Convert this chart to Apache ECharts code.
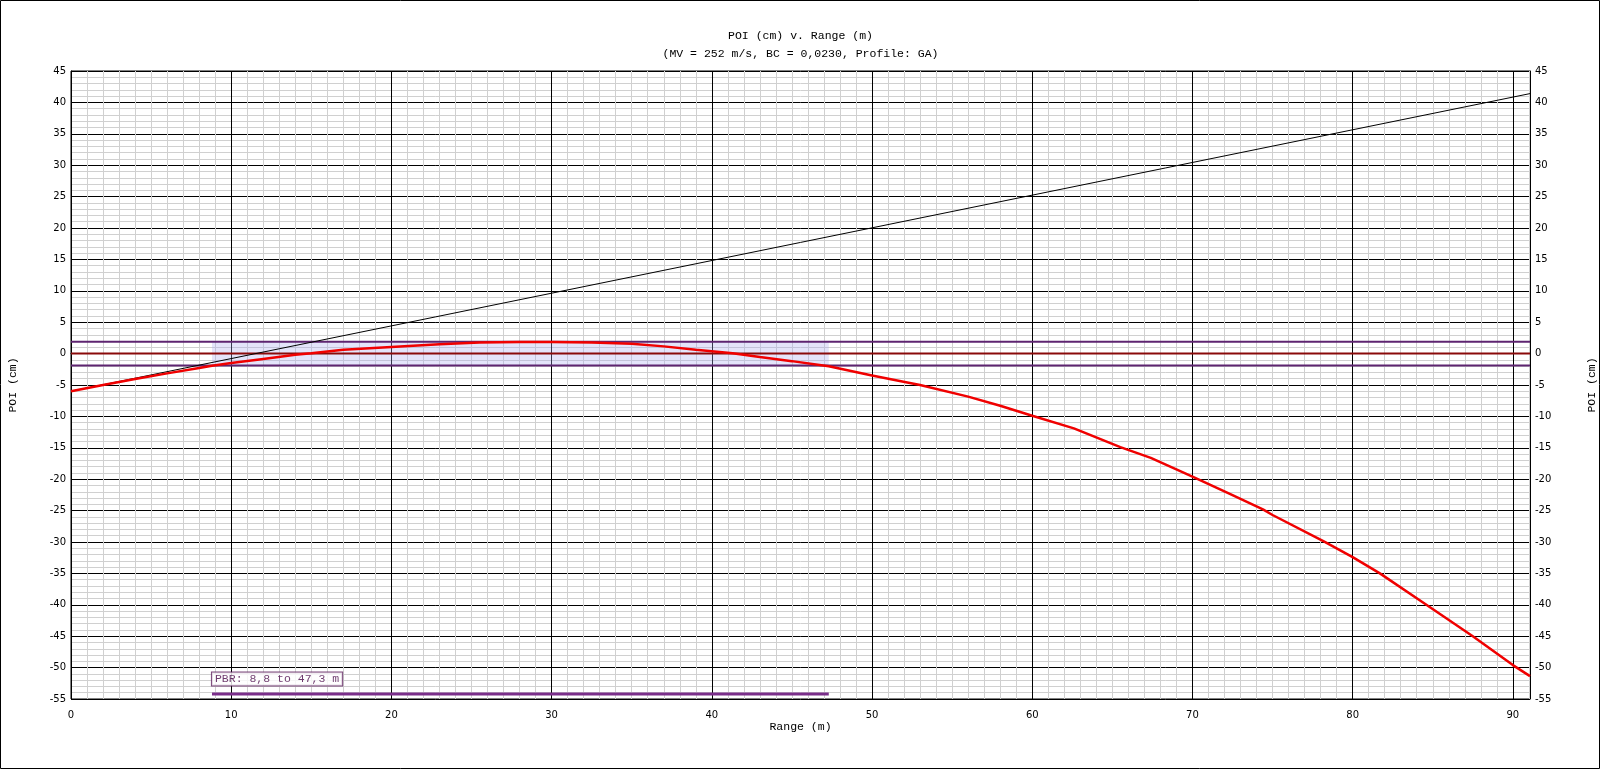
<!DOCTYPE html>
<html>
<head>
<meta charset="utf-8">
<script src="https://cdn.jsdelivr.net/npm/echarts@6/dist/echarts.min.js"></script>
<style>
html,body{margin:0;padding:0;background:#fff;}
#chart{width:1601px;height:770px;}
</style>
</head>
<body>
<div id="chart"></div>
<script>
// ---- data ----
const titleText = 'POI (cm) v. Range (m)';
const subtitleText = '(MV = 252 m/s, BC = 0,0230, Profile: GA)';
const xName = 'Range (m)';
const yName = 'POI (cm)';
const xMin = 0, xMax = 91.07;
const yMin = -55, yMax = 45;

// trajectory (range m, POI cm)
const trajRange = [0, 2, 4, 6, 8, 8.8, 10, 12, 14, 15, 17, 20, 23, 25.5, 28, 30, 32.5, 35, 37, 39, 41.3, 43, 45, 47.3, 50, 52.2, 53, 56, 58, 60, 62.6, 65.5, 67.4, 70, 72.3, 74.4, 75, 78.2, 80, 81.7, 84.6, 87.5, 90, 91.07];
const trajPOI   = [-6.0, -5.0, -4.05, -3.15, -2.3, -1.95, -1.5, -0.85, -0.2, 0.05, 0.6, 1.05, 1.5, 1.75, 1.85, 1.85, 1.75, 1.55, 1.15, 0.6, 0.05, -0.55, -1.2, -2.0, -3.5, -4.6, -5.0, -6.85, -8.3, -9.9, -11.9, -14.9, -16.6, -19.6, -22.3, -24.8, -25.7, -29.9, -32.4, -35, -40, -45, -49.6, -51.35];

// line of bore
const boreRange = [0, 91.07];
const borePOI = [-6.0, 41.4];

// point-blank range band
const pbrStart = 8.8, pbrEnd = 47.3;
const bandHalf = 1.9;
const pbrBarY = -54.2;
const pbrLabel = 'PBR: 8,8 to 47,3 m';

const zip = (a, b) => a.map((v, i) => [v, b[i]]);

const monoFont = 'Liberation Mono';
const tickFont = 'DejaVu Sans';

const chart = echarts.init(document.getElementById('chart'), null, {renderer: 'canvas'});
const gridPos = {left: 71, right: 71, top: 71, bottom: 71};

const option = {
  animation: false,
  backgroundColor: '#fff',
  title: [
    {text: titleText, left: 'center', top: 30, padding: 0,
     textStyle: {fontFamily: monoFont, fontSize: 11.5, fontWeight: 'normal', color: '#000'}},
    {text: subtitleText, left: 'center', top: 47.5, padding: 0,
     textStyle: {fontFamily: monoFont, fontSize: 11.5, fontWeight: 'normal', color: '#000'}}
  ],
  graphic: [{
    type: 'rect', silent: true, z: 100,
    shape: {x: 0.5, y: 0.5, width: 1599, height: 768},
    style: {fill: 'none', stroke: '#000', lineWidth: 1}
  }],
  grid: Object.assign({show: true, borderColor: '#000', borderWidth: 1, backgroundColor: 'transparent',
                       containLabel: false, outerBoundsMode: 'none'}, gridPos),
  xAxis: [
    { // minor grid
      type: 'value', min: xMin, max: xMax, interval: 1, position: 'bottom',
      axisLine: {show: false}, axisTick: {show: false}, axisLabel: {show: false},
      splitLine: {show: true, lineStyle: {color: '#d0d0d0', width: 1}}
    },
    { // major grid + labels
      type: 'value', min: xMin, max: xMax, interval: 10, position: 'bottom',
      name: xName, nameLocation: 'middle', nameGap: 22, nameMoveOverlap: false,
      nameTextStyle: {fontFamily: monoFont, fontSize: 11.5, color: '#000'},
      axisLine: {show: true, lineStyle: {color: '#000', width: 1}}, axisTick: {show: false},
      axisLabel: {show: true, margin: 11, fontFamily: tickFont, fontSize: 10, color: '#000',
        formatter: v => (Math.abs(v % 10) < 1e-6 ? String(Math.round(v)) : '')},
      splitLine: {show: true, lineStyle: {color: '#000', width: 1}}
    }
  ],
  yAxis: [
    { // minor grid
      type: 'value', min: yMin, max: yMax, interval: 1, position: 'left',
      axisLine: {show: false}, axisTick: {show: false}, axisLabel: {show: false},
      splitLine: {show: true, lineStyle: {color: '#d0d0d0', width: 1}}
    },
    { // major left
      type: 'value', min: yMin, max: yMax, interval: 5, position: 'left',
      name: yName, nameLocation: 'middle', nameGap: 52, nameRotate: 90, nameMoveOverlap: false,
      nameTextStyle: {fontFamily: monoFont, fontSize: 11.5, color: '#000'},
      axisLine: {show: true, lineStyle: {color: '#000'}}, axisTick: {show: false},
      axisLabel: {show: true, margin: 5, fontFamily: tickFont, fontSize: 10, color: '#000'},
      splitLine: {show: true, lineStyle: {color: '#000', width: 1}}
    },
    { // major right
      type: 'value', min: yMin, max: yMax, interval: 5, position: 'right',
      name: yName, nameLocation: 'middle', nameGap: 56, nameRotate: 90, nameMoveOverlap: false,
      nameTextStyle: {fontFamily: monoFont, fontSize: 11.5, color: '#000'},
      axisLine: {show: true, lineStyle: {color: '#000'}}, axisTick: {show: false},
      axisLabel: {show: true, margin: 5, fontFamily: tickFont, fontSize: 10, color: '#000'},
      splitLine: {show: false}
    }
  ],
  series: [
    { // zero line + PBR band
      type: 'line', xAxisIndex: 1, yAxisIndex: 1, symbol: 'none', z: 2,
      data: [[xMin, 0], [xMax, 0]],
      lineStyle: {color: '#8a0a0a', width: 2},
      markArea: {
        silent: true,
        itemStyle: {color: 'rgba(170,170,240,0.32)'},
        data: [[{coord: [pbrStart, -bandHalf]}, {coord: [pbrEnd, bandHalf]}]]
      }
    },
    {
      type: 'line', xAxisIndex: 1, yAxisIndex: 1, symbol: 'none', z: 3,
      data: [[xMin, bandHalf], [xMax, bandHalf]],
      lineStyle: {color: '#5e2470', width: 2}
    },
    {
      type: 'line', xAxisIndex: 1, yAxisIndex: 1, symbol: 'none', z: 3,
      data: [[xMin, -bandHalf], [xMax, -bandHalf]],
      lineStyle: {color: '#5e2470', width: 2}
    },
    { // line of bore
      type: 'line', xAxisIndex: 1, yAxisIndex: 1, symbol: 'none', z: 4,
      data: zip(boreRange, borePOI),
      lineStyle: {color: '#000', width: 1}
    },
    { // trajectory
      type: 'line', xAxisIndex: 1, yAxisIndex: 1, symbol: 'none', z: 5,
      data: zip(trajRange, trajPOI),
      lineStyle: {color: '#f00000', width: 2.5}
    },
    { // PBR bar
      type: 'line', xAxisIndex: 1, yAxisIndex: 1, symbol: 'none', z: 4,
      data: [[pbrStart, pbrBarY], [pbrEnd, pbrBarY]],
      lineStyle: {color: '#7a2e8a', width: 3}
    },
    { // PBR label
      type: 'scatter', xAxisIndex: 1, yAxisIndex: 1, z: 6,
      symbol: 'rect', symbolSize: 0.1,
      itemStyle: {color: 'rgba(0,0,0,0)'},
      data: [[pbrStart, pbrBarY]],
      label: {
        show: true, position: [0, -21.5], align: 'left', verticalAlign: 'top',
        formatter: pbrLabel,
        fontFamily: monoFont, fontSize: 11.5, color: '#4a0a4a',
        backgroundColor: '#fff', borderColor: '#5a1a5a', borderWidth: 1,
        padding: [1, 3, 0, 3], lineHeight: 12
      }
    }
  ]
};
chart.setOption(option);
</script>
</body>
</html>
